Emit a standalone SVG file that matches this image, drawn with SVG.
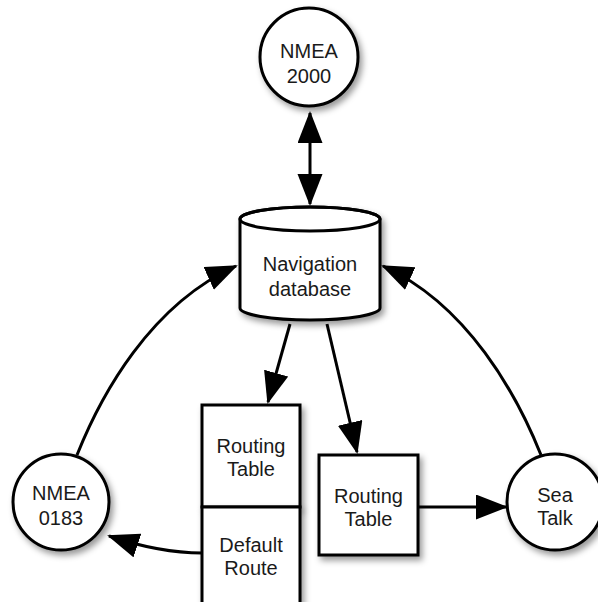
<svg xmlns="http://www.w3.org/2000/svg" width="598" height="602" viewBox="0 0 598 602">
<style>
.shape{fill:#fff;stroke:#000;stroke-width:3}
.lbl{font-family:"Liberation Sans",Arial,sans-serif;font-size:20px;fill:#1a1a1a;text-anchor:middle}
.conn{fill:none;stroke:#000;stroke-width:3}
</style>
<defs>
<filter id="sh" x="-20%" y="-20%" width="150%" height="150%">
<feDropShadow dx="3" dy="4" stdDeviation="3" flood-color="#000" flood-opacity="0.4"/>
</filter>
<marker id="ah" markerUnits="userSpaceOnUse" markerWidth="34" markerHeight="26" refX="30" refY="12.5" orient="auto-start-reverse">
<path d="M0,0 L32,12.5 L0,25 z" fill="#000"/>
</marker>
</defs>
<rect width="598" height="602" fill="#fff"/>
<g id="connectors">
<path class="conn" d="M310,113 L310,204" marker-start="url(#ah)" marker-end="url(#ah)"/>
<path class="conn" d="M77,455 C101,395 150,305 236,266" marker-end="url(#ah)"/>
<path class="conn" d="M541,455 C517,395 468,305 383,266" marker-end="url(#ah)"/>
<path class="conn" d="M290,324 L268,402" marker-end="url(#ah)"/>
<path class="conn" d="M327,324 L357,452" marker-end="url(#ah)"/>
<path class="conn" d="M418,507 L506,507" marker-end="url(#ah)"/>
<path class="conn" d="M202,553 Q160,553 109,536" marker-end="url(#ah)"/>
</g>
<g id="nmea2000">
<circle class="shape" cx="309" cy="57" r="49" filter="url(#sh)"/>
<text class="lbl" x="309" y="58">NMEA</text>
<text class="lbl" x="309" y="83">2000</text>
</g>
<g id="navdb">
<path class="shape" filter="url(#sh)" d="M240,219 L240,308 A70,12 0 0 0 380,308 L380,219 A70,12 0 0 0 240,219 z"/>
<ellipse cx="310" cy="219" rx="70" ry="12" fill="none" stroke="#000" stroke-width="3"/>
<text class="lbl" x="310" y="271">Navigation</text>
<text class="lbl" x="310" y="296">database</text>
</g>
<g id="routing1">
<rect class="shape" x="202" y="405" width="98" height="102" filter="url(#sh)"/>
<text class="lbl" x="251" y="453">Routing</text>
<text class="lbl" x="251" y="476">Table</text>
</g>
<g id="defaultroute">
<rect class="shape" x="202" y="507" width="98" height="110" filter="url(#sh)"/>
<text class="lbl" x="251" y="552">Default</text>
<text class="lbl" x="251" y="575">Route</text>
</g>
<g id="nmea0183">
<circle class="shape" cx="61" cy="502" r="48" filter="url(#sh)"/>
<text class="lbl" x="61" y="500">NMEA</text>
<text class="lbl" x="61" y="525">0183</text>
</g>
<g id="routing2">
<rect class="shape" x="319" y="455" width="99" height="100" filter="url(#sh)"/>
<text class="lbl" x="368.5" y="503">Routing</text>
<text class="lbl" x="368.5" y="526">Table</text>
</g>
<g id="seatalk">
<circle class="shape" cx="555" cy="502" r="48" filter="url(#sh)"/>
<text class="lbl" x="555" y="502">Sea</text>
<text class="lbl" x="555" y="525">Talk</text>
</g>
</svg>
